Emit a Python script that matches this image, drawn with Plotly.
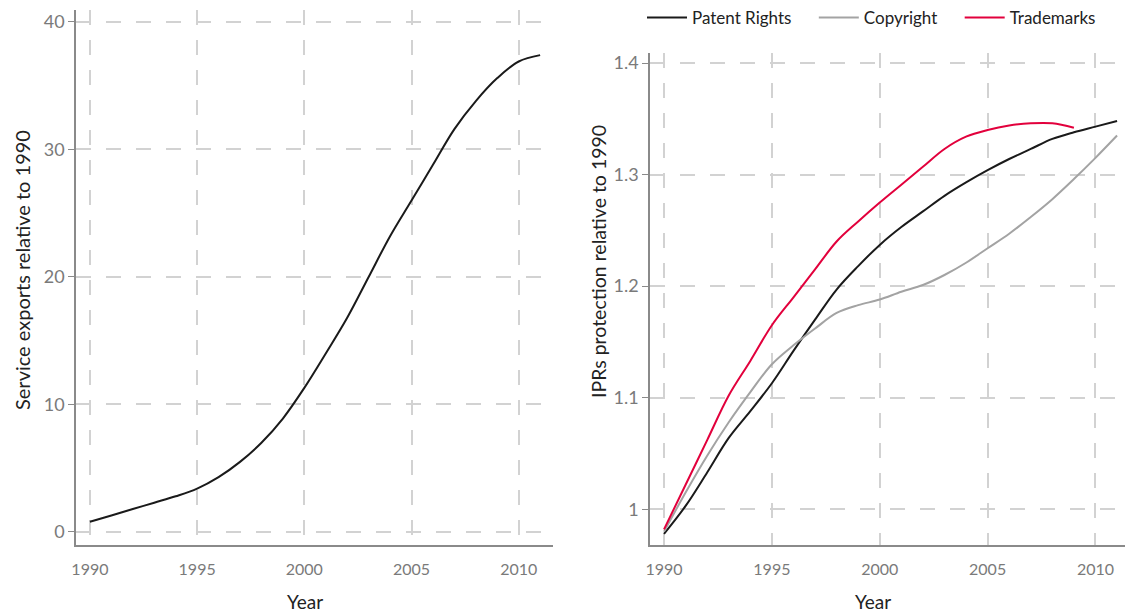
import plotly.graph_objects as go

years_exports = list(range(1990, 2012))
service_exports = [0.8, 1.3, 1.8, 2.3, 2.8, 3.4, 4.3, 5.5, 7.0, 8.9, 11.3, 14.0,
                   16.8, 20.0, 23.2, 26.0, 28.8, 31.6, 33.8, 35.6, 36.9, 37.4]

years_ipr = list(range(1990, 2012))
patent_rights = [0.978, 1.003, 1.033, 1.064, 1.088, 1.113, 1.142, 1.170, 1.197, 1.218,
                 1.237, 1.253, 1.267, 1.281, 1.293, 1.304, 1.314, 1.323, 1.332, 1.338,
                 1.343, 1.348]
copyright_ = [0.980, 1.015, 1.048, 1.078, 1.105, 1.130, 1.147, 1.162, 1.176, 1.183,
              1.188, 1.195, 1.201, 1.210, 1.221, 1.234, 1.247, 1.262, 1.278, 1.296,
              1.315, 1.335]
years_tm = list(range(1990, 2010))
trademarks = [0.982, 1.022, 1.062, 1.102, 1.133, 1.165, 1.190, 1.215, 1.240, 1.258,
              1.275, 1.291, 1.307, 1.323, 1.334, 1.340, 1.344, 1.346, 1.346, 1.342]

# page body has an 8px margin: figure sized to the remaining visible area
OFF = 8
W, H = 1133 - OFF, 613 - OFF
FONT = "Lato"
GRID = "#d2d2d2"
AXIS = "#8a8a8a"
TICKC = "#7a7a7a"
NB = "\u00a0"

def px(x):  # screen x -> paper fraction
    return (x - OFF) / W

def py(y):  # screen y -> paper fraction (from bottom)
    return 1 - (y - OFF) / H

fig = go.Figure()
fig.add_trace(go.Scatter(x=years_exports, y=service_exports, mode="lines",
                         line=dict(color="#1a1a1a", width=2, shape="spline"),
                         showlegend=False, xaxis="x", yaxis="y"))
fig.add_trace(go.Scatter(x=years_ipr, y=patent_rights, mode="lines",
                         name="Patent Rights" + NB * 4,
                         line=dict(color="#1a1a1a", width=2, shape="spline"),
                         xaxis="x2", yaxis="y2"))
fig.add_trace(go.Scatter(x=years_ipr, y=copyright_, mode="lines",
                         name="Copyright" + NB * 4,
                         line=dict(color="#a3a3a3", width=2, shape="spline"),
                         xaxis="x2", yaxis="y2"))
fig.add_trace(go.Scatter(x=years_tm, y=trademarks, mode="lines", name="Trademarks",
                         line=dict(color="#e2003c", width=2, shape="spline"),
                         xaxis="x2", yaxis="y2"))

def xax(domain, anchor):
    return dict(domain=domain, anchor=anchor, range=[1989.35, 2011.6], automargin=False,
                tick0=1990, dtick=5, showgrid=True, gridcolor=GRID, gridwidth=1.5,
                griddash="15px,15px", zeroline=False, showline=True, linecolor=AXIS,
                linewidth=1.5, ticks="outside", ticklen=9, tickcolor="rgba(0,0,0,0)",
                tickfont=dict(family=FONT, size=16, color=TICKC))

def yax(domain, anchor, rng, dtick, tick0):
    return dict(domain=domain, anchor=anchor, range=rng, dtick=dtick, tick0=tick0,
                automargin=False,
                showgrid=True, gridcolor=GRID, gridwidth=1.5, griddash="15px,15px",
                zeroline=False, showline=True, linecolor=AXIS, linewidth=1.5,
                ticks="outside", ticklen=6, tickcolor=AXIS, tickwidth=1,
                tickfont=dict(family=FONT, size=18, color=TICKC))

annotations = [
    dict(text="Service exports relative to 1990", textangle=-90, x=px(22), y=py(270),
         xref="paper", yref="paper", xanchor="center", yanchor="middle",
         showarrow=False, font=dict(family=FONT, size=20, color="#222")),
    dict(text="IPRs protection relative to 1990", textangle=-90, x=px(598), y=py(262),
         xref="paper", yref="paper", xanchor="center", yanchor="middle",
         showarrow=False, font=dict(family=FONT, size=19.5, color="#222")),
    dict(text="Year", x=px(305), y=py(601), xref="paper", yref="paper",
         xanchor="center", yanchor="middle", showarrow=False,
         font=dict(family=FONT, size=19, color="#222")),
    dict(text="Year", x=px(873), y=py(601), xref="paper", yref="paper",
         xanchor="center", yanchor="middle", showarrow=False,
         font=dict(family=FONT, size=19, color="#222")),
]

fig.update_layout(
    width=W, height=H, autosize=False,
    margin=dict(l=0, r=0, t=0, b=0, autoexpand=False),
    plot_bgcolor="white", paper_bgcolor="white",
    xaxis=xax([px(76), px(553)], "y"),
    yaxis=yax([py(545), py(10)], "x", [-1.02, 40.94], 10, 0),
    xaxis2=xax([px(650), px(1130)], "y2"),
    yaxis2=yax([py(545), py(53)], "x2", [0.968, 1.409], 0.1, 1.0),
    legend=dict(orientation="h", x=px(642), xanchor="left", y=py(18), yanchor="middle",
                font=dict(family=FONT, size=17, color="#222"),
                bgcolor="rgba(0,0,0,0)", itemwidth=40, tracegroupgap=0),
    annotations=annotations,
)

fig.write_html("out.html")
